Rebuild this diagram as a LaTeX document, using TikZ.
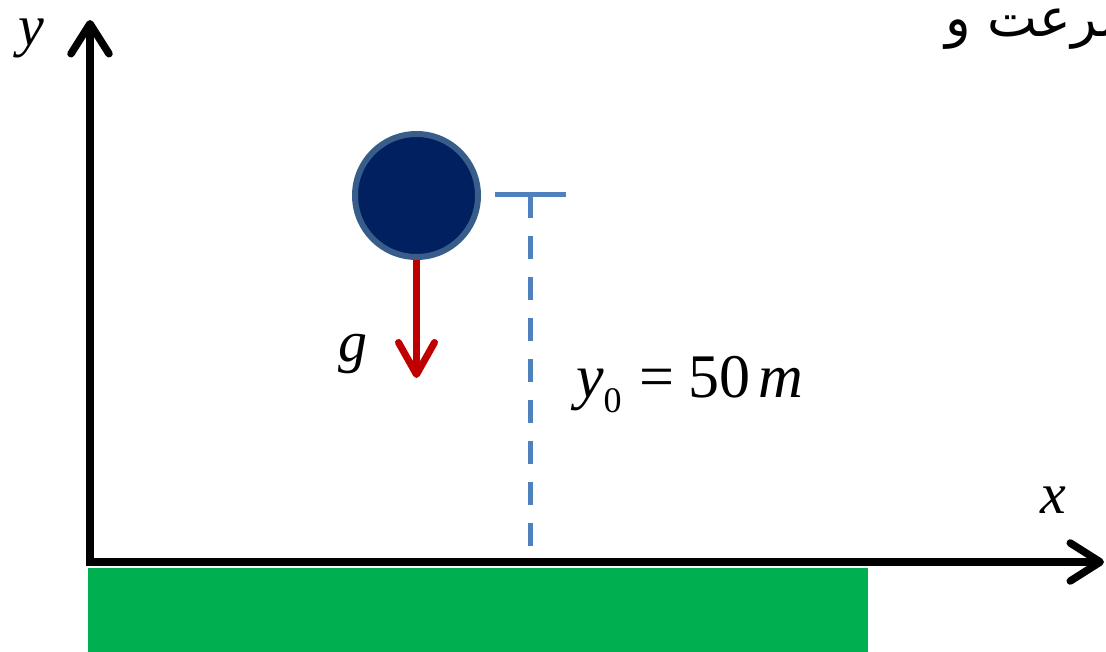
\documentclass[tikz,border=0pt]{standalone}
\usepackage{fontspec}
\setmainfont{Liberation Serif}
\newfontfamily\arabicfont[Script=Arabic]{DejaVu Sans}
\TeXXeTstate=1
\usetikzlibrary{arrows.meta}
\definecolor{ballfill}{HTML}{002060}
\definecolor{ballrim}{HTML}{385D8A}
\definecolor{gred}{HTML}{C00000}
\definecolor{hblue}{HTML}{4F81BD}
\definecolor{ground}{HTML}{00B050}
\tikzset{
  barb/.tip={Straight Barb[length=30pt,width=38pt,round]},
  lbl/.style={inner sep=0pt,font=\fontsize{58}{60}\selectfont\itshape},
}
\begin{document}
\begin{tikzpicture}[
  x=1pt,y=-1pt,
  axis/.style={line width=7.5pt,barb-barb,line join=miter},
  gvec/.style={line width=7pt,color=gred,-{Straight Barb[length=32pt,width=36pt,round]}},
  height/.style={line width=5pt,color=hblue},
  ball/.style={circle,draw=ballrim,fill=ballfill,line width=6pt,minimum size=123pt,inner sep=0pt}
]
\useasboundingbox (0,0) rectangle (1106,652);

% ground
\fill[ground] (88,568) rectangle (868,652);

\coordinate (O) at (90,562);
\coordinate (ytip) at (90,20);
\coordinate (xtip) at (1104,562);
\draw[axis] (ytip) -- (O) -- (xtip);

\node[lbl] (ylab) at (31,38) {y};
\node[lbl] (xlab) at (1053,500) {x};

\node[ball] (B) at (416.5,195.5) {};

\coordinate (gtip) at (416.5,378);
\draw[gvec] (B.south) -- (gtip);
\node[lbl,anchor=base] (glab) at (353,362) {g};

\coordinate (tL) at (495,195);
\coordinate (tR) at (566,195);
\coordinate (hT) at (530,195);
\coordinate (hB) at (530,548);
\draw[height] (tL) -- (tR);
\draw[height,dash pattern=on 23pt off 18pt] (hT) -- (hB);

\node[lbl,anchor=base west,font=\fontsize{62}{64}\selectfont\itshape] (h0) at (576,397)
  {y\raisebox{-15pt}{\fontsize{36}{36}\selectfont\upshape 0}\hspace{18pt}\upshape=\hspace{14pt}50\hspace{8pt}\itshape m};

\node[inner sep=0pt,anchor=base west,font=\fontsize{53}{56}\selectfont] (title) at (945,37)
  {\arabicfont\beginR سرعت و\endR};
\end{tikzpicture}
\end{document}
